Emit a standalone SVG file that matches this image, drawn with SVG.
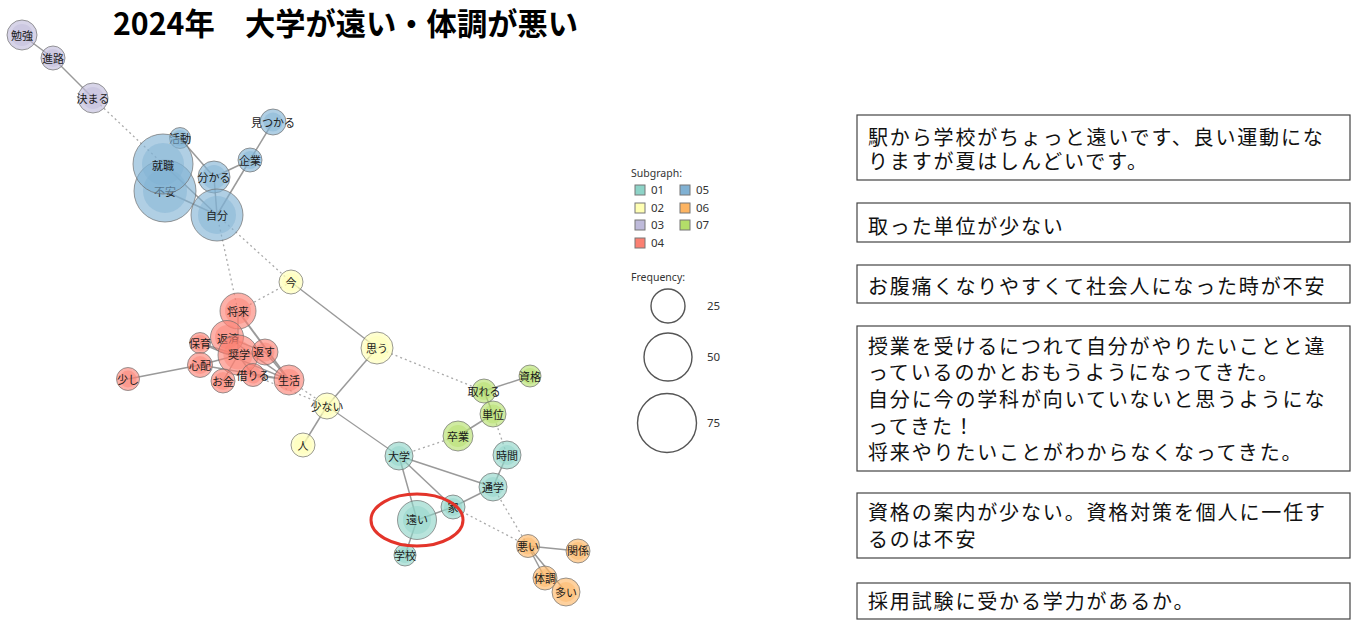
<svg xmlns="http://www.w3.org/2000/svg" width="1358" height="620" viewBox="0 0 1358 620">
<style>
.bg{fill:#ffffff}
.title{font-family:"Noto Sans CJK JP","Noto Sans",sans-serif;font-weight:bold;font-size:31px;fill:#000}
.e{stroke:#9a9a9a;stroke-width:1.5;fill:none}
.d{stroke:#aaaaaa;stroke-width:1.3;stroke-dasharray:2 3;fill:none}
.node .o{stroke:#6f6f6f;stroke-opacity:0.7;stroke-width:1;fill-opacity:0.62}
.node .i{stroke:none;fill-opacity:0.45}
.node text{font-family:"Noto Sans CJK JP","Noto Sans",sans-serif;font-size:11px;fill:#1a1a1a;text-anchor:middle;dominant-baseline:central}
.c01 circle{fill:#8DD3C7}
.c02 circle{fill:#FFFFB3}
.c03 circle{fill:#BEBADA}
.c04 circle{fill:#FB8072}
.c05 circle{fill:#80B1D3}
.c06 circle{fill:#FDB462}
.c07 circle{fill:#B3DE69}
.lg{font-family:"Noto Sans","Noto Sans CJK JP",sans-serif;font-size:10.5px;fill:#333}
.ln{font-family:"Noto Sans","Noto Sans CJK JP",sans-serif;font-size:11.5px;fill:#333}
.sq{stroke:#777;stroke-width:1}
.fc{fill:none;stroke:#555;stroke-width:1.4}
.box{fill:#fff;stroke:#444;stroke-width:1.2}
.bt{font-family:"Noto Sans CJK JP","Noto Sans",sans-serif;font-size:20px;letter-spacing:1.85px;fill:#111}
.hl{fill:none;stroke:#e3342a;stroke-width:3}
</style>
<rect class="bg" x="0" y="0" width="1358" height="620"/>
<text class="title" x="113" y="35" textLength="465" lengthAdjust="spacingAndGlyphs">2024年　大学が遠い・体調が悪い</text>

<g id="connectors">
<line class="e" x1="22" y1="35" x2="53" y2="58"/>
<line class="e" x1="53" y1="58" x2="93" y2="98"/>
<line class="d" x1="93" y1="98" x2="163" y2="164"/>
<line class="e" x1="180" y1="138" x2="214" y2="177"/>
<line class="e" x1="163" y1="164" x2="217" y2="215"/>
<line class="e" x1="165" y1="191" x2="217" y2="215"/>
<line class="e" x1="214" y1="177" x2="217" y2="215"/>
<line class="e" x1="250" y1="160" x2="214" y2="177"/>
<line class="e" x1="250" y1="160" x2="217" y2="215"/>
<line class="e" x1="273" y1="122" x2="250" y2="160"/>
<line class="d" x1="217" y1="215" x2="238" y2="311"/>
<line class="d" x1="217" y1="215" x2="291" y2="282"/>
<line class="d" x1="291" y1="282" x2="238" y2="311"/>
<line class="e" x1="291" y1="282" x2="377" y2="348"/>
<line class="e" x1="377" y1="348" x2="327" y2="406"/>
<line class="d" x1="377" y1="348" x2="484" y2="391"/>
<line class="e" x1="327" y1="406" x2="303" y2="445"/>
<line class="e" x1="327" y1="406" x2="399" y2="456" style="stroke-width:1.1"/>
<line class="d" x1="289" y1="380" x2="327" y2="406"/>
<line class="d" x1="253" y1="375" x2="327" y2="406"/>
<line class="e" x1="128" y1="379" x2="200" y2="365"/>
<line class="e" x1="200" y1="365" x2="238" y2="355"/>
<line class="e" x1="200" y1="365" x2="289" y2="380"/>
<line class="e" x1="200" y1="343" x2="238" y2="355"/>
<line class="e" x1="200" y1="343" x2="289" y2="380"/>
<line class="e" x1="238" y1="311" x2="289" y2="380" style="stroke-width:2"/>
<line class="e" x1="238" y1="311" x2="238" y2="355"/>
<line class="e" x1="227" y1="337" x2="265" y2="352"/>
<line class="e" x1="227" y1="337" x2="289" y2="380"/>
<line class="e" x1="238" y1="355" x2="265" y2="352"/>
<line class="e" x1="238" y1="355" x2="253" y2="375"/>
<line class="e" x1="238" y1="355" x2="223" y2="381"/>
<line class="e" x1="265" y1="352" x2="289" y2="380"/>
<line class="e" x1="253" y1="375" x2="289" y2="380"/>
<line class="e" x1="530" y1="376" x2="484" y2="391"/>
<line class="e" x1="484" y1="391" x2="493" y2="414"/>
<line class="e" x1="493" y1="414" x2="458" y2="436"/>
<line class="d" x1="458" y1="436" x2="399" y2="456"/>
<line class="d" x1="493" y1="414" x2="507" y2="455"/>
<line class="e" x1="399" y1="456" x2="493" y2="487"/>
<line class="e" x1="399" y1="456" x2="453" y2="507"/>
<line class="e" x1="399" y1="456" x2="417" y2="520"/>
<line class="e" x1="417" y1="520" x2="453" y2="507"/>
<line class="e" x1="453" y1="507" x2="493" y2="487"/>
<line class="e" x1="493" y1="487" x2="507" y2="455"/>
<line class="e" x1="417" y1="520" x2="405" y2="555"/>
<line class="d" x1="453" y1="507" x2="528" y2="546"/>
<line class="d" x1="493" y1="487" x2="528" y2="546"/>
<line class="e" x1="528" y1="546" x2="578" y2="551"/>
<line class="e" x1="528" y1="546" x2="545" y2="578"/>
<line class="e" x1="528" y1="546" x2="566" y2="592"/>
</g>

<g id="node-benkyo" class="node c03"><circle class="o" cx="22" cy="35" r="15"/><circle class="i" cx="22" cy="35" r="11"/><text x="22" y="35">勉強</text></g>
<g id="node-shinro" class="node c03"><circle class="o" cx="53" cy="58" r="12"/><circle class="i" cx="53" cy="58" r="9"/><text x="53" y="58">進路</text></g>
<g id="node-kimaru" class="node c03"><circle class="o" cx="93" cy="98" r="15"/><circle class="i" cx="93" cy="98" r="11"/><text x="93" y="98">決まる</text></g>

<g id="node-katsudo" class="node c05"><circle class="o" cx="180" cy="138" r="10.5"/><circle class="i" cx="180" cy="138" r="8"/><text x="180" y="138">活動</text></g>
<g id="node-mitsukaru" class="node c05"><circle class="o" cx="273" cy="122" r="13"/><circle class="i" cx="273" cy="122" r="9.5"/><text x="273" y="122">見つかる</text></g>
<g id="node-kigyo" class="node c05"><circle class="o" cx="250" cy="160" r="12"/><circle class="i" cx="250" cy="160" r="9"/><text x="250" y="160">企業</text></g>
<g id="node-fuan" class="node c05"><circle class="o" cx="165" cy="191" r="31"/><circle class="i" cx="165" cy="191" r="22"/><text x="165" y="191">不安</text></g>
<g id="node-shushoku" class="node c05"><circle class="o" cx="163" cy="164" r="30"/><circle class="i" cx="163" cy="164" r="21"/><text x="163" y="165">就職</text></g>
<g id="node-wakaru" class="node c05"><circle class="o" cx="214" cy="177" r="16"/><circle class="i" cx="214" cy="177" r="12"/><text x="214" y="177">分かる</text></g>
<g id="node-jibun" class="node c05"><circle class="o" cx="217" cy="215" r="26"/><circle class="i" cx="217" cy="215" r="19"/><text x="217" y="215">自分</text></g>

<g id="node-ima" class="node c02"><circle class="o" cx="291" cy="282" r="12"/><circle class="i" cx="291" cy="282" r="9"/><text x="291" y="282">今</text></g>
<g id="node-omou" class="node c02"><circle class="o" cx="377" cy="348" r="16"/><circle class="i" cx="377" cy="348" r="12"/><text x="377" y="348">思う</text></g>
<g id="node-sukunai" class="node c02"><circle class="o" cx="327" cy="406" r="13"/><circle class="i" cx="327" cy="406" r="9.5"/><text x="327" y="406">少ない</text></g>
<g id="node-hito" class="node c02"><circle class="o" cx="303" cy="445" r="12"/><circle class="i" cx="303" cy="445" r="9"/><text x="303" y="445">人</text></g>

<g id="node-shorai" class="node c04"><circle class="o" cx="238" cy="311" r="18"/><circle class="i" cx="238" cy="311" r="13"/><text x="238" y="311">将来</text></g>
<g id="node-hensai" class="node c04"><circle class="o" cx="227" cy="337" r="16.5"/><circle class="i" cx="227" cy="337" r="12"/><text x="228" y="338">返済</text></g>
<g id="node-shogaku" class="node c04"><circle class="o" cx="238" cy="355" r="20"/><circle class="i" cx="238" cy="355" r="14.5"/><text x="239" y="354">奨学</text></g>
<g id="node-kaesu" class="node c04"><circle class="o" cx="265" cy="352" r="13"/><circle class="i" cx="265" cy="352" r="9.5"/><text x="264" y="351">返す</text></g>
<g id="node-hoiku" class="node c04"><circle class="o" cx="200" cy="343" r="10.5"/><circle class="i" cx="200" cy="343" r="8"/><text x="200" y="343">保育</text></g>
<g id="node-shinpai" class="node c04"><circle class="o" cx="200" cy="365" r="12.5"/><circle class="i" cx="200" cy="365" r="9"/><text x="200" y="365">心配</text></g>
<g id="node-sukoshi" class="node c04"><circle class="o" cx="128" cy="379" r="11.5"/><circle class="i" cx="128" cy="379" r="8.5"/><text x="128" y="379">少し</text></g>
<g id="node-okane" class="node c04"><circle class="o" cx="223" cy="381" r="12"/><circle class="i" cx="223" cy="381" r="9"/><text x="223" y="381">お金</text></g>
<g id="node-kariru" class="node c04"><circle class="o" cx="253" cy="375" r="11.5"/><circle class="i" cx="253" cy="375" r="8.5"/><text x="253" y="375">借りる</text></g>
<g id="node-seikatsu" class="node c04"><circle class="o" cx="289" cy="380" r="15"/><circle class="i" cx="289" cy="380" r="11"/><text x="289" y="380">生活</text></g>

<g id="node-shikaku" class="node c07"><circle class="o" cx="530" cy="376" r="11"/><circle class="i" cx="530" cy="376" r="8"/><text x="530" y="376">資格</text></g>
<g id="node-toreru" class="node c07"><circle class="o" cx="484" cy="391" r="12"/><circle class="i" cx="484" cy="391" r="9"/><text x="484" y="391">取れる</text></g>
<g id="node-tani" class="node c07"><circle class="o" cx="493" cy="414" r="13"/><circle class="i" cx="493" cy="414" r="9.5"/><text x="493" y="414">単位</text></g>
<g id="node-sotsugyo" class="node c07"><circle class="o" cx="458" cy="436" r="15"/><circle class="i" cx="458" cy="436" r="11"/><text x="458" y="436">卒業</text></g>

<g id="node-daigaku" class="node c01"><circle class="o" cx="399" cy="456" r="14"/><circle class="i" cx="399" cy="456" r="10"/><text x="399" y="456">大学</text></g>
<g id="node-jikan" class="node c01"><circle class="o" cx="507" cy="455" r="14"/><circle class="i" cx="507" cy="455" r="10"/><text x="507" y="455">時間</text></g>
<g id="node-tsugaku" class="node c01"><circle class="o" cx="493" cy="487" r="14"/><circle class="i" cx="493" cy="487" r="10"/><text x="493" y="487">通学</text></g>
<g id="node-ie" class="node c01"><circle class="o" cx="453" cy="507" r="12"/><circle class="i" cx="453" cy="507" r="9"/><text x="453" y="507">家</text></g>
<g id="node-tooi" class="node c01"><circle class="o" cx="417" cy="520" r="19.5"/><circle class="i" cx="417" cy="520" r="14"/><text x="417" y="519">遠い</text></g>
<g id="node-gakko" class="node c01"><circle class="o" cx="405" cy="555" r="11"/><circle class="i" cx="405" cy="555" r="8"/><text x="405" y="555">学校</text></g>

<g id="node-warui" class="node c06"><circle class="o" cx="528" cy="546" r="11.5"/><circle class="i" cx="528" cy="546" r="8.5"/><text x="528" y="546">悪い</text></g>
<g id="node-kankei" class="node c06"><circle class="o" cx="578" cy="551" r="12"/><circle class="i" cx="578" cy="551" r="9"/><text x="578" y="550">関係</text></g>
<g id="node-taicho" class="node c06"><circle class="o" cx="545" cy="578" r="12"/><circle class="i" cx="545" cy="578" r="9"/><text x="545" y="578">体調</text></g>
<g id="node-ooi" class="node c06"><circle class="o" cx="566" cy="592" r="14"/><circle class="i" cx="566" cy="592" r="10"/><text x="566" y="592">多い</text></g>

<ellipse id="highlight" class="hl" cx="417" cy="520" rx="46" ry="26"/>

<g id="legend">
<text class="lg" x="631" y="177">Subgraph:</text>
<rect class="sq" x="635" y="185" width="10" height="10" fill="#8DD3C7"/><text class="ln" x="651" y="194">01</text>
<rect class="sq" x="680" y="185" width="10" height="10" fill="#80B1D3"/><text class="ln" x="696" y="194">05</text>
<rect class="sq" x="635" y="203" width="10" height="10" fill="#FFFFB3"/><text class="ln" x="651" y="212">02</text>
<rect class="sq" x="680" y="203" width="10" height="10" fill="#FDB462"/><text class="ln" x="696" y="212">06</text>
<rect class="sq" x="635" y="220" width="10" height="10" fill="#BEBADA"/><text class="ln" x="651" y="229">03</text>
<rect class="sq" x="680" y="220" width="10" height="10" fill="#B3DE69"/><text class="ln" x="696" y="229">07</text>
<rect class="sq" x="635" y="238" width="10" height="10" fill="#FB8072"/><text class="ln" x="651" y="247">04</text>
<text class="lg" x="631" y="281">Frequency:</text>
<circle class="fc" cx="668" cy="306" r="17"/><text class="ln" x="707" y="310">25</text>
<circle class="fc" cx="668" cy="357" r="24"/><text class="ln" x="707" y="361">50</text>
<circle class="fc" cx="667" cy="423" r="29.5"/><text class="ln" x="707" y="427">75</text>
</g>

<g id="box-1"><rect class="box" x="857" y="115" width="493" height="65"/>
<text class="bt" x="868" y="145">駅から学校がちょっと遠いです、良い運動にな</text>
<text class="bt" x="868" y="169">りますが夏はしんどいです。</text></g>
<g id="box-2"><rect class="box" x="857" y="203" width="493" height="39"/>
<text class="bt" x="868" y="234">取った単位が少ない</text></g>
<g id="box-3"><rect class="box" x="857" y="265" width="493" height="38"/>
<text class="bt" x="868" y="294">お腹痛くなりやすくて社会人になった時が不安</text></g>
<g id="box-4"><rect class="box" x="857" y="326" width="493" height="145"/>
<text class="bt" x="868" y="354">授業を受けるにつれて自分がやりたいことと違</text>
<text class="bt" x="868" y="380">っているのかとおもうようになってきた。</text>
<text class="bt" x="868" y="407">自分に今の学科が向いていないと思うようにな</text>
<text class="bt" x="868" y="434">ってきた！</text>
<text class="bt" x="868" y="460">将来やりたいことがわからなくなってきた。</text></g>
<g id="box-5"><rect class="box" x="857" y="493" width="493" height="65"/>
<text class="bt" x="868" y="520">資格の案内が少ない。資格対策を個人に一任す</text>
<text class="bt" x="868" y="547">るのは不安</text></g>
<g id="box-6"><rect class="box" x="857" y="583" width="493" height="36"/>
<text class="bt" x="868" y="609">採用試験に受かる学力があるか。</text></g>
</svg>
